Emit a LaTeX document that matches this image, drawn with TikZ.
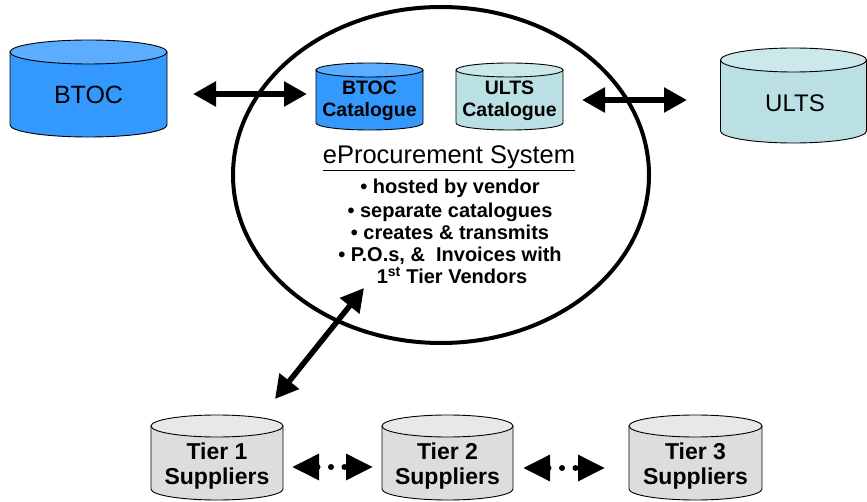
\documentclass[tikz,border=0pt]{standalone}
\usepackage{fontspec}
\setmainfont{Liberation Sans}
\usetikzlibrary{arrows.meta,shapes.geometric}
\definecolor{btocbody}{HTML}{3399FF}
\definecolor{btoctop}{HTML}{5CADFF}
\definecolor{ultsbody}{HTML}{BBE0E3}
\definecolor{ultstop}{HTML}{CBE8EA}
\definecolor{tierbody}{HTML}{DDDDDD}
\definecolor{tiertop}{HTML}{E8E8E8}
% cx, half width, y of top ellipse, y of bottom ellipse, ry, body colour, top colour
\newcommand\drawcyl[7]{%
  \filldraw[fill=#6, draw=black, line width=0.9pt] ({#1-#2},#3) -- ({#1-#2},#4)
    arc[start angle=180, end angle=360, x radius=#2pt, y radius=#5pt] -- ({#1+#2},#3) -- cycle;
  \filldraw[fill=#7, draw=black, line width=0.9pt] (#1,#3) ellipse[x radius=#2pt, y radius=#5pt];
}
\begin{document}
\begin{tikzpicture}[x=1pt,y=-1pt,
  bigarrow/.style={line width=5.5pt, {Triangle[length=23pt,width=24pt]}-{Triangle[length=23pt,width=24pt]}},
  dotarrow/.style={line width=6pt, line cap=round, dash pattern=on 0pt off 13.5pt,
     {Triangle[length=27pt,width=25pt]}-{Triangle[length=27pt,width=25pt]}},
  biglabel/.style={inner sep=0pt, font=\fontsize{25}{30}\selectfont},
  catlabel/.style={inner sep=0pt, align=center, font=\fontsize{19.5}{22}\selectfont\bfseries},
  tierlabel/.style={inner sep=0pt, align=center, font=\fontsize{23}{25}\selectfont\bfseries},
  bullet/.style={inner sep=0pt, anchor=base, font=\fontsize{20}{22}\selectfont\bfseries},
]
\useasboundingbox (0,0) rectangle (867,502);
\fill[white] (0,0) rectangle (867,502);

% side databases
\drawcyl{88.5}{78.5}{52}{125}{12}{btocbody}{btoctop}
\node[biglabel] (btoc) at (88.5,95) {BTOC};
\drawcyl{793.5}{73}{60}{131}{12}{ultsbody}{ultstop}
\node[biglabel, font=\fontsize{24}{29}\selectfont] (ults) at (795,103) {ULTS};

% system ellipse
\node[draw, ellipse, line width=4pt, minimum width=416pt, minimum height=336pt, inner sep=0pt] (sys) at (441,175) {};

% catalogues
\drawcyl{369.5}{53.5}{70}{123}{7}{btocbody}{btoctop}
\node[catlabel] (btoccat) at (369.5,101) {BTOC\\Catalogue};
\drawcyl{509.5}{53.5}{70}{123}{7}{ultsbody}{ultstop}
\node[catlabel] (ultscat) at (509.5,101) {ULTS\\Catalogue};

\node[inner sep=0pt, anchor=base, font=\fontsize{25.5}{28}\selectfont] (eproc) at (449,164) {\underline{eProcurement System}};
\node[bullet] (b1) at (450,194) {\textbullet\ hosted by vendor};
\node[bullet] (b2) at (450,218) {\textbullet\ separate catalogues};
\node[bullet] (b3) at (450,240) {\textbullet\ creates \& transmits};
\node[bullet] (b4) at (450,262) {\textbullet\ P.O.s, \&\ \ Invoices with};
\node[bullet] (b5) at (452,284) {1\textsuperscript{st} Tier Vendors};

% tiers
\drawcyl{217}{66}{426}{489}{11}{tierbody}{tiertop}
\node[tierlabel] (t1) at (217,466) {Tier 1\\Suppliers};
\drawcyl{447.5}{65.5}{426}{489}{11}{tierbody}{tiertop}
\node[tierlabel] (t2) at (447.5,466) {Tier 2\\Suppliers};
\drawcyl{695.5}{66.5}{426}{489}{11}{tierbody}{tiertop}
\node[tierlabel] (t3) at (695.5,466) {Tier 3\\Suppliers};

% connectors
\coordinate (a1) at (193,94);  \coordinate (a2) at (307,94);
\coordinate (u1) at (582,100); \coordinate (u2) at (687,100);
\coordinate (d1) at (364,288); \coordinate (d2) at (275,399);
\coordinate (e1) at (292,467); \coordinate (e2) at (373,467);
\coordinate (f1) at (523,468); \coordinate (f2) at (605,468);
\draw[bigarrow] (a1) -- (a2);
\draw[bigarrow] (u1) -- (u2);
\draw[bigarrow] (d1) -- (d2);
\draw[dotarrow] (e1) -- (e2);
\draw[dotarrow] (f1) -- (f2);
\end{tikzpicture}
\end{document}
